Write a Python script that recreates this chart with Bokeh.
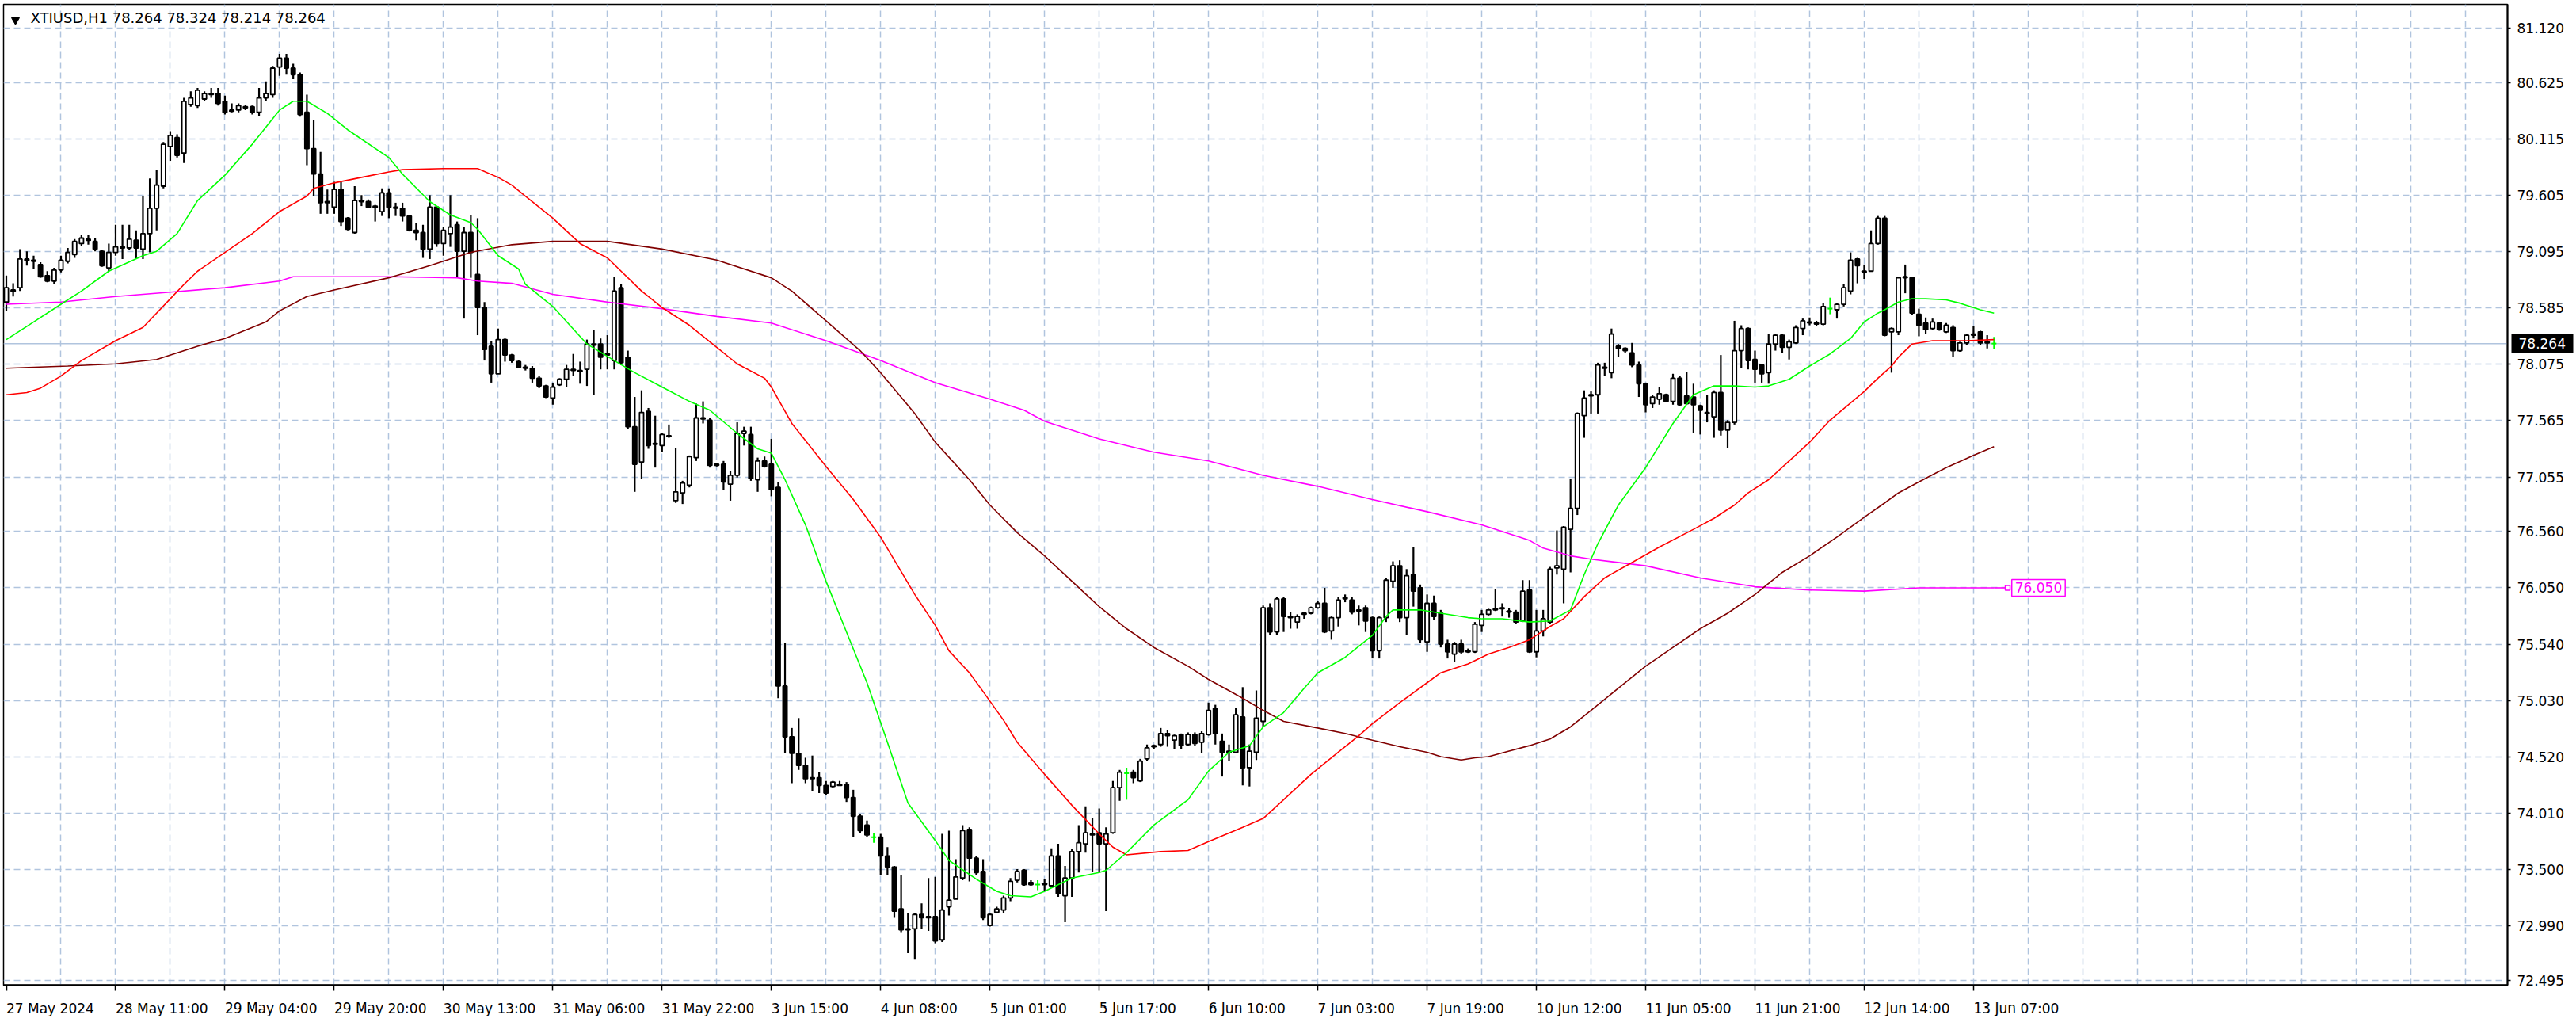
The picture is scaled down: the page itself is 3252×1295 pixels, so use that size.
from bokeh.plotting import figure
from bokeh.models import Range1d, FixedTicker, PrintfTickFormatter, Span, Label, LinearAxis
from bokeh.embed import file_html
from bokeh.resources import INLINE

# ---------------- data ----------------
symbol = "XTIUSD,H1"

opens = [
    78.64, 78.74, 78.77, 79.03, 79.02, 78.98, 78.88, 78.83, 78.93, 79.01,
    79.07, 79.17, 79.21, 79.19, 79.10, 78.95, 79.09, 79.14, 79.13, 79.20,
    79.12, 79.26, 79.49, 79.69, 80.05, 80.13, 79.99, 80.43, 80.42, 80.48,
    80.53, 80.53, 80.46, 80.37, 80.38, 80.41, 80.41, 80.36, 80.49, 80.52,
    80.77, 80.85, 80.76, 80.70, 80.36, 80.03, 79.80, 79.54, 79.50, 79.66,
    79.40, 79.27, 79.56, 79.55, 79.51, 79.46, 79.63, 79.50, 79.49, 79.42,
    79.29, 79.27, 79.12, 79.50, 79.17, 79.26, 79.34, 79.10, 79.27, 78.89,
    78.59, 78.24, 77.99, 78.30, 78.16, 78.10, 78.05, 78.04, 77.95, 77.88,
    77.77, 77.89, 77.94, 78.03, 78.02, 78.03, 78.26, 78.26, 78.16, 78.11,
    78.77, 78.14, 77.51, 77.19, 77.65, 77.36, 77.34, 77.42, 76.84, 76.91,
    76.98, 77.23, 77.59, 77.57, 77.17, 77.17, 76.99, 77.07, 77.45, 77.44,
    77.03, 77.20, 77.17, 76.96, 75.16, 74.70, 74.55, 74.44, 74.33, 74.33,
    74.26, 74.25, 74.26, 74.27, 74.15, 73.98, 73.90, 73.79, 73.79, 73.62,
    73.52, 73.14, 72.96, 72.96, 73.09, 73.06, 73.07, 72.86, 73.16, 73.23,
    73.42, 73.86, 73.60, 73.48, 72.99, 73.11, 73.13, 73.24, 73.40, 73.49,
    73.38, 73.36, 73.37, 73.35, 73.62, 73.26, 73.42, 73.66, 73.73, 73.82,
    73.83, 73.73, 73.83, 74.24, 74.37, 74.38, 74.30, 74.50, 74.61, 74.63,
    74.73, 74.67, 74.72, 74.63, 74.72, 74.65, 74.72, 74.96, 74.66, 74.57,
    74.56, 74.88, 74.42, 74.56, 74.84, 75.87, 75.65, 75.95, 75.79, 75.74,
    75.82, 75.82, 75.87, 75.91, 75.66, 75.78, 75.95, 75.94, 75.85, 75.87,
    75.78, 75.48, 75.78, 76.11, 76.25, 75.78, 76.17, 76.05, 75.56, 75.91,
    75.82, 75.54, 75.45, 75.54, 75.47, 75.47, 75.71, 75.81, 75.86, 75.86,
    75.84, 75.83, 75.75, 76.03, 75.47, 75.66, 75.74, 76.23, 76.22, 76.58,
    76.77, 77.61, 77.80, 77.80, 78.05, 78.00, 78.24, 78.22, 78.18, 78.07,
    77.90, 77.72, 77.76, 77.80, 77.74, 77.95, 77.79, 77.78, 77.70, 77.64,
    77.60, 77.82, 77.48, 77.55, 78.20, 78.40, 78.12, 78.07, 78.00, 78.26,
    78.34, 78.23, 78.27, 78.40, 78.46, 78.45, 78.44, 78.58, 78.57, 78.62,
    78.74, 79.03, 78.92, 78.92, 79.17, 79.40, 78.37, 78.37, 78.87, 78.86,
    78.53, 78.45, 78.40, 78.45, 78.37, 78.41, 78.20, 78.27, 78.35, 78.37,
    78.28, 78.264,
]
highs = [
    78.88, 78.81, 79.12, 79.10, 79.06, 79.00, 78.92, 78.95, 79.06, 79.13,
    79.21, 79.25, 79.25, 79.22, 79.11, 79.17, 79.34, 79.34, 79.34, 79.29,
    79.60, 79.76, 79.84, 80.09, 80.19, 80.16, 80.49, 80.55, 80.58, 80.55,
    80.58, 80.58, 80.51, 80.44, 80.44, 80.43, 80.42, 80.58, 80.64, 80.78,
    80.89, 80.89, 80.80, 80.72, 80.52, 80.29, 80.00, 79.66, 79.73, 79.73,
    79.41, 79.69, 79.61, 79.57, 79.52, 79.67, 79.67, 79.54, 79.54, 79.43,
    79.36, 79.34, 79.61, 79.51, 79.32, 79.61, 79.37, 79.32, 79.43, 79.40,
    78.64, 78.29, 78.40, 78.31, 78.17, 78.11, 78.07, 78.06, 77.97, 77.89,
    77.91, 77.95, 78.07, 78.17, 78.10, 78.30, 78.39, 78.31, 78.34, 78.87,
    78.80, 78.20, 77.78, 77.84, 77.68, 77.61, 77.45, 77.53, 77.32, 77.02,
    77.25, 77.72, 77.74, 77.59, 77.18, 77.20, 77.11, 77.55, 77.51, 77.51,
    77.23, 77.24, 77.40, 77.01, 75.55, 74.78, 74.87, 74.51, 74.53, 74.38,
    74.30, 74.30, 74.30, 74.29, 74.22, 74.00, 73.94, 73.83, 73.82, 73.70,
    73.53, 73.45, 73.10, 73.10, 73.19, 73.42, 73.43, 73.82, 73.85, 73.59,
    73.90, 73.88, 73.62, 73.59, 73.10, 73.16, 73.26, 73.42, 73.50, 73.50,
    73.40, 73.40, 73.41, 73.69, 73.73, 73.53, 73.68, 73.90, 74.07, 73.96,
    74.05, 73.88, 74.30, 74.40, 74.42, 74.40, 74.50, 74.63, 74.63, 74.78,
    74.76, 74.72, 74.73, 74.74, 74.74, 74.75, 75.01, 74.99, 74.73, 74.63,
    74.96, 75.15, 74.63, 75.12, 75.89, 75.91, 75.97, 75.97, 75.83, 75.81,
    75.83, 75.88, 75.93, 76.05, 75.79, 75.97, 75.99, 75.97, 75.89, 75.89,
    75.79, 75.79, 76.14, 76.29, 76.30, 76.22, 76.42, 76.08, 75.99, 75.98,
    75.85, 75.58, 75.56, 75.58, 75.50, 75.74, 75.85, 75.86, 76.04, 75.91,
    75.87, 75.85, 76.12, 76.12, 75.85, 75.85, 76.24, 76.57, 76.61, 77.04,
    77.64, 77.84, 77.83, 78.09, 78.09, 78.40, 78.26, 78.23, 78.27, 78.10,
    77.91, 77.80, 77.87, 77.81, 77.99, 77.97, 78.01, 77.90, 77.71, 77.80,
    77.84, 78.16, 77.57, 78.47, 78.43, 78.41, 78.20, 78.08, 78.35, 78.35,
    78.35, 78.30, 78.43, 78.49, 78.50, 78.47, 78.63, 78.68, 78.63, 78.80,
    79.09, 79.04, 78.98, 79.29, 79.42, 79.42, 78.41, 78.87, 78.98, 78.87,
    78.58, 78.50, 78.49, 78.46, 78.45, 78.43, 78.28, 78.35, 78.42, 78.38,
    78.34, 78.324,
]
lows = [
    78.56, 78.69, 78.74, 78.97, 78.94, 78.86, 78.82, 78.80, 78.91, 78.99,
    79.04, 79.15, 79.16, 79.10, 78.96, 78.92, 79.06, 79.03, 79.11, 79.03,
    79.03, 79.09, 79.29, 79.67, 79.92, 79.95, 79.90, 80.41, 80.40, 80.46,
    80.49, 80.42, 80.34, 80.36, 80.36, 80.38, 80.34, 80.33, 80.46, 80.49,
    80.69, 80.70, 80.66, 80.32, 79.88, 79.60, 79.44, 79.44, 79.44, 79.33,
    79.29, 79.26, 79.51, 79.49, 79.37, 79.42, 79.40, 79.42, 79.37, 79.28,
    79.20, 79.04, 79.03, 79.14, 79.06, 79.14, 78.87, 78.49, 78.86, 78.34,
    78.11, 77.91, 77.99, 78.10, 78.09, 78.04, 78.02, 77.91, 77.86, 77.77,
    77.71, 77.88, 77.87, 77.97, 77.90, 77.88, 77.80, 78.03, 78.03, 78.03,
    78.07, 77.49, 76.92, 77.04, 77.31, 77.14, 77.28, 77.41, 76.82, 76.81,
    76.96, 77.20, 77.54, 77.14, 77.15, 76.94, 76.84, 77.05, 77.34, 77.02,
    76.92, 77.14, 76.88, 75.05, 74.55, 74.28, 74.40, 74.28, 74.21, 74.19,
    74.17, 74.24, 74.26, 74.11, 73.79, 73.83, 73.79, 73.74, 73.45, 73.45,
    73.06, 72.93, 72.74, 72.68, 72.96, 72.94, 72.83, 72.84, 73.08, 73.23,
    73.40, 73.39, 73.45, 73.04, 72.98, 73.10, 73.10, 73.21, 73.38, 73.35,
    73.35, 73.31, 73.30, 73.33, 73.25, 73.02, 73.25, 73.47, 73.65, 73.48,
    73.47, 73.12, 73.82, 74.12, 74.13, 74.28, 74.29, 74.48, 74.59, 74.61,
    74.61, 74.59, 74.59, 74.62, 74.62, 74.55, 74.71, 74.63, 74.34, 74.48,
    74.55, 74.26, 74.25, 74.49, 74.79, 75.62, 75.62, 75.65, 75.68, 75.68,
    75.77, 75.81, 75.86, 75.64, 75.58, 75.70, 75.92, 75.81, 75.71, 75.65,
    75.41, 75.41, 75.74, 76.05, 75.74, 75.62, 75.88, 75.55, 75.47, 75.76,
    75.51, 75.41, 75.38, 75.45, 75.46, 75.46, 75.65, 75.80, 75.84, 75.79,
    75.78, 75.72, 75.74, 75.46, 75.42, 75.61, 75.72, 76.17, 75.91, 76.19,
    76.71, 77.41, 77.63, 77.63, 77.97, 77.95, 78.14, 78.18, 78.05, 77.78,
    77.64, 77.68, 77.71, 77.73, 77.71, 77.70, 77.71, 77.45, 77.44, 77.55,
    77.41, 77.43, 77.32, 77.53, 78.04, 78.03, 77.91, 77.91, 77.90, 78.20,
    78.18, 78.12, 78.26, 78.34, 78.43, 78.42, 78.43, 78.53, 78.49, 78.60,
    78.71, 78.81, 78.85, 78.92, 79.16, 78.33, 78.00, 78.34, 78.72, 78.52,
    78.33, 78.35, 78.39, 78.38, 78.36, 78.14, 78.19, 78.25, 78.31, 78.25,
    78.22, 78.214,
]
closes = [
    78.77, 78.75, 79.03, 79.02, 79.01, 78.87, 78.83, 78.93, 79.02, 79.09,
    79.19, 79.22, 79.20, 79.12, 78.97, 79.09, 79.14, 79.13, 79.21, 79.13,
    79.26, 79.49, 79.70, 80.07, 80.15, 79.97, 80.46, 80.49, 80.56, 80.53,
    80.52, 80.44, 80.36, 80.38, 80.42, 80.40, 80.36, 80.49, 80.53, 80.76,
    80.85, 80.76, 80.70, 80.34, 80.03, 79.80, 79.54, 79.55, 79.66, 79.37,
    79.30, 79.56, 79.55, 79.50, 79.50, 79.63, 79.50, 79.49, 79.42, 79.29,
    79.27, 79.12, 79.50, 79.17, 79.29, 79.32, 79.10, 79.27, 79.09, 78.59,
    78.21, 77.99, 78.30, 78.16, 78.11, 78.05, 78.04, 77.95, 77.88, 77.78,
    77.87, 77.94, 78.03, 78.02, 78.01, 78.26, 78.25, 78.14, 78.17, 78.74,
    78.09, 77.51, 77.17, 77.64, 77.34, 77.35, 77.44, 77.43, 76.92, 77.00,
    77.24, 77.59, 77.58, 77.16, 77.16, 77.01, 77.07, 77.45, 77.47, 77.04,
    77.20, 77.15, 76.94, 75.16, 74.70, 74.55, 74.44, 74.32, 74.32, 74.26,
    74.19, 74.29, 74.27, 74.15, 73.98, 73.85, 73.81, 73.79, 73.62, 73.52,
    73.12, 72.95, 72.95, 73.09, 73.06, 73.07, 72.85, 73.13, 73.22, 73.43,
    73.85, 73.60, 73.47, 73.06, 73.09, 73.14, 73.24, 73.39, 73.48, 73.36,
    73.36, 73.36, 73.36, 73.62, 73.28, 73.42, 73.66, 73.74, 73.83, 73.81,
    73.73, 73.82, 74.24, 74.38, 74.37, 74.33, 74.48, 74.60, 74.62, 74.73,
    74.71, 74.71, 74.62, 74.72, 74.64, 74.73, 74.94, 74.73, 74.56, 74.56,
    74.90, 74.42, 74.57, 74.87, 75.87, 75.65, 75.95, 75.79, 75.78, 75.79,
    75.81, 75.87, 75.91, 75.65, 75.78, 75.94, 75.96, 75.83, 75.84, 75.75,
    75.48, 75.78, 76.12, 76.25, 75.78, 76.16, 76.02, 75.58, 75.91, 75.79,
    75.54, 75.47, 75.54, 75.47, 75.48, 75.72, 75.81, 75.85, 75.85, 75.87,
    75.83, 75.74, 76.02, 75.47, 75.66, 75.77, 76.22, 76.25, 76.60, 76.77,
    77.63, 77.77, 77.79, 78.07, 78.04, 78.35, 78.22, 78.20, 78.07, 77.90,
    77.71, 77.78, 77.81, 77.74, 77.95, 77.71, 77.72, 77.71, 77.66, 77.63,
    77.82, 77.48, 77.55, 78.20, 78.40, 78.11, 78.03, 77.99, 78.26, 78.34,
    78.23, 78.28, 78.41, 78.47, 78.45, 78.44, 78.60, 78.58, 78.62, 78.77,
    79.02, 78.97, 78.91, 79.17, 79.40, 78.34, 78.40, 78.86, 78.86, 78.54,
    78.43, 78.39, 78.46, 78.39, 78.43, 78.20, 78.27, 78.34, 78.34, 78.27,
    78.27, 78.264,
]

# moving averages (bar index, value)
ma20_bars = [0, 4, 8, 11, 15, 20, 22, 25, 28, 32, 36, 40, 42, 44, 47, 50, 56, 58, 62, 65,
             68, 69, 72, 75, 76, 80, 85, 89, 92, 96, 100, 103, 107, 110, 112, 114, 117, 120, 123, 126,
             129, 132, 134, 136, 138, 142, 145, 147, 150, 152, 156, 160, 161, 164, 168, 173, 176, 179, 182, 184,
             187, 190, 192, 196, 200, 202, 203, 207, 210, 214, 216, 219, 223, 226, 229, 231, 233, 236, 240, 244,
             247, 250, 253, 256, 258, 261, 264, 267, 270, 272, 274, 275, 277, 279, 281, 284, 286, 289, 291]
ma20_vals = [78.30, 78.46, 78.62, 78.74, 78.92, 79.06, 79.10, 79.26, 79.56, 79.79, 80.07, 80.38, 80.46, 80.46, 80.35, 80.20, 79.95, 79.80, 79.55, 79.43,
             79.36, 79.30, 79.06, 78.94, 78.80, 78.60, 78.26, 78.11, 78.00, 77.87, 77.74, 77.66, 77.45, 77.31, 77.27, 77.03, 76.62, 76.11, 75.65, 75.19,
             74.65, 74.10, 73.93, 73.76, 73.58, 73.41, 73.30, 73.26, 73.25, 73.30, 73.42, 73.47, 73.49, 73.65, 73.90, 74.13, 74.39, 74.56, 74.62, 74.79,
             74.92, 75.14, 75.28, 75.42, 75.62, 75.79, 75.85, 75.85, 75.82, 75.78, 75.77, 75.77, 75.74, 75.75, 75.85, 76.17, 76.45, 76.80, 77.14, 77.54,
             77.80, 77.88, 77.88, 77.87, 77.88, 77.94, 78.06, 78.17, 78.31, 78.46, 78.54, 78.57, 78.64, 78.67, 78.67, 78.66, 78.63, 78.57, 78.54]

ma50_bars = [0, 3, 5, 8, 11, 16, 20, 22, 24, 26, 28, 32, 36, 40, 44, 45, 48, 52, 56, 58,
             64, 69, 72, 74, 76, 80, 84, 88, 93, 96, 100, 104, 107, 111, 112, 115, 120, 124, 128, 133,
             136, 138, 141, 143, 146, 148, 152, 156, 160, 162, 164, 169, 173, 176, 181, 184, 187, 191, 195, 198,
             200, 204, 208, 210, 214, 217, 220, 223, 224, 226, 228, 231, 234, 238, 242, 247, 250, 253, 255, 258,
             261, 264, 267, 272, 274, 276, 277, 279, 282, 284, 287, 291]
ma50_vals = [77.80, 77.82, 77.86, 77.97, 78.11, 78.29, 78.41, 78.54, 78.67, 78.80, 78.92, 79.09, 79.26, 79.46, 79.60, 79.67, 79.72, 79.77, 79.82, 79.84,
             79.85, 79.85, 79.77, 79.70, 79.60, 79.40, 79.17, 79.04, 78.74, 78.59, 78.43, 78.23, 78.08, 77.95, 77.87, 77.54, 77.15, 76.85, 76.51, 75.99,
             75.71, 75.48, 75.28, 75.11, 74.85, 74.65, 74.36, 74.08, 73.82, 73.70, 73.63, 73.66, 73.67, 73.75, 73.88, 73.96, 74.13, 74.36, 74.56, 74.71,
             74.82, 75.01, 75.19, 75.28, 75.36, 75.45, 75.51, 75.58, 75.62, 75.70, 75.77, 75.97, 76.14, 76.28, 76.42, 76.58, 76.68, 76.80, 76.91, 77.03,
             77.20, 77.37, 77.57, 77.83, 77.95, 78.06, 78.14, 78.26, 78.29, 78.29, 78.29, 78.30]

ma100_bars = [0, 9, 16, 22, 28, 32, 38, 40, 44, 48, 56, 62, 68, 74, 80, 88, 96, 104, 112, 115,
              120, 125, 128, 133, 136, 141, 144, 148, 152, 156, 160, 164, 168, 173, 176, 181, 184, 187, 192, 196,
              200, 204, 208, 210, 213, 215, 217, 220, 223, 226, 229, 232, 236, 240, 244, 248, 252, 256, 260, 264,
              268, 272, 275, 277, 280, 284, 288, 291]
ma100_vals = [78.04, 78.06, 78.08, 78.12, 78.24, 78.31, 78.46, 78.56, 78.69, 78.75, 78.86, 78.97, 79.09, 79.16, 79.19, 79.19, 79.12, 79.02, 78.86, 78.74,
              78.47, 78.20, 78.00, 77.63, 77.37, 77.03, 76.80, 76.55, 76.34, 76.11, 75.88, 75.68, 75.51, 75.34, 75.22, 75.05, 74.94, 74.84, 74.78, 74.73,
              74.67, 74.61, 74.56, 74.52, 74.49, 74.51, 74.52, 74.57, 74.62, 74.68, 74.79, 74.94, 75.14, 75.34, 75.51, 75.68, 75.82, 75.99, 76.19, 76.34,
              76.51, 76.69, 76.82, 76.91, 77.01, 77.14, 77.25, 77.33]

ma200_bars = [0, 8, 16, 24, 32, 40, 42, 48, 56, 66, 69, 74, 80, 88, 96, 104, 112, 120, 128, 136,
              144, 149, 152, 160, 168, 176, 184, 192, 200, 208, 216, 223, 225, 229, 232, 240, 248, 256, 264, 272,
              280, 291]
ma200_vals = [78.62, 78.64, 78.69, 78.73, 78.77, 78.83, 78.87, 78.87, 78.87, 78.86, 78.83, 78.81, 78.71, 78.64, 78.58, 78.51, 78.45, 78.29, 78.11, 77.91,
              77.76, 77.66, 77.56, 77.40, 77.28, 77.20, 77.07, 76.97, 76.85, 76.74, 76.62, 76.48, 76.41, 76.34, 76.31, 76.25, 76.14, 76.06, 76.03, 76.02,
              76.05, 76.05]

time_label_bars = [0, 16, 32, 48, 64, 80, 96, 112, 128, 144, 160, 176, 192, 208, 224, 240, 256, 272, 288]
time_labels = ["27 May 2024", "28 May 11:00", "29 May 04:00", "29 May 20:00", "30 May 13:00",
               "31 May 06:00", "31 May 22:00", "3 Jun 15:00", "4 Jun 08:00", "5 Jun 01:00",
               "5 Jun 17:00", "6 Jun 10:00", "7 Jun 03:00", "7 Jun 19:00", "10 Jun 12:00",
               "11 Jun 05:00", "11 Jun 21:00", "12 Jun 14:00", "13 Jun 07:00"]
price_ticks = [81.120, 80.625, 80.115, 79.605, 79.095, 78.585, 78.075, 77.565, 77.055,
               76.560, 76.050, 75.540, 75.030, 74.520, 74.010, 73.500, 72.990, 72.495]

# ---------------- layout / style ----------------
FIG_W, FIG_H = 3252, 1295
BORDER_L, BORDER_T = 4, 5
FRAME_W, FRAME_H = 3161, 1245
BAR_PX = 8.623
X0 = -3.5 / BAR_PX
X1 = X0 + FRAME_W / BAR_PX
Y0, Y1 = 72.449, 81.338
PX_PER_PRICE = FRAME_H / (Y1 - Y0)

FONT = "DejaVu Sans"
FS = "17px"
GRID = "#B0C4DE"
GREEN, RED, MAROON, MAGENTA = "#00FF00", "#FF0000", "#800000", "#FF00FF"

p = figure(width=FIG_W, height=FIG_H,
           x_range=Range1d(X0, X1), y_range=Range1d(Y0, Y1),
           output_backend="svg", toolbar_location=None,
           y_axis_location="right",
           min_border_left=BORDER_L, min_border_top=BORDER_T,
           min_border_right=FIG_W - FRAME_W - BORDER_L,
           min_border_bottom=FIG_H - FRAME_H - BORDER_T,
           background_fill_color="white", border_fill_color="white")
p.outline_line_color = "black"
p.outline_line_width = 1.5

# x axis (time), labels start at their tick as in the terminal
xa = p.xaxis[0]
xa.ticker = FixedTicker(ticks=time_label_bars, minor_ticks=[])
xa.major_label_overrides = {b: t for b, t in zip(time_label_bars, time_labels)}
xa.major_label_orientation = -1e-6
xa.major_tick_out = 7
xa.major_tick_in = 0
xa.minor_tick_out = 0
xa.minor_tick_in = 0
xa.axis_line_width = 2.5
xa.axis_line_color = "black"
xa.major_tick_line_width = 1.5
xa.major_label_standoff = 22
xa.major_label_text_font = FONT
xa.major_label_text_font_size = FS
xa.major_label_text_color = "black"

# y axis (price, right)
ya = p.yaxis[0]
ya.ticker = FixedTicker(ticks=price_ticks, minor_ticks=[])
ya.formatter = PrintfTickFormatter(format="%.3f")
ya.major_tick_out = 4
ya.major_tick_in = 0
ya.minor_tick_out = 0
ya.minor_tick_in = 0
ya.axis_line_width = 2
ya.axis_line_color = "black"
ya.major_tick_line_width = 1.5
ya.major_label_standoff = 8
ya.major_label_text_font = FONT
ya.major_label_text_font_size = FS
ya.major_label_text_color = "black"

# current-price marker on the price scale: a second right axis whose single
# thick tick reaches back over the price labels (black box, white text)
PRICE_AXIS_W = 72          # width taken by the price axis panel
BOX_L, BOX_R = 3, 81       # box extent, px right of the frame edge
box_axis = LinearAxis(ticker=FixedTicker(ticks=[closes[-1]], minor_ticks=[]),
                      formatter=PrintfTickFormatter(format="%.3f"),
                      axis_line_color=None,
                      major_tick_in=PRICE_AXIS_W - BOX_L,
                      major_tick_out=BOX_R - PRICE_AXIS_W,
                      major_tick_line_width=23, major_tick_line_color="black",
                      minor_tick_in=0, minor_tick_out=0,
                      major_label_standoff=-(BOX_R - 12),
                      major_label_text_color="white",
                      major_label_text_font=FONT, major_label_text_font_size=FS)
p.add_layout(box_axis, "right")

# grid
p.xgrid.ticker = FixedTicker(ticks=list(range(8, 361, 8)))
p.ygrid.ticker = FixedTicker(ticks=price_ticks)
for g in (p.xgrid[0], p.ygrid[0]):
    g.grid_line_color = GRID
    g.grid_line_width = 1.5
    g.grid_line_dash = "8 5"

# current price line
p.add_layout(Span(location=closes[-1], dimension="width", line_color=GRID,
                  line_width=1.5, level="underlay"))

# ---------------- candles ----------------
idx = list(range(len(closes)))
moved = [i for i in idx if opens[i] != closes[i]]
up = [i for i in idx if closes[i] > opens[i]]
dn = [i for i in idx if closes[i] < opens[i]]
dj = [i for i in idx if closes[i] == opens[i]]

p.segment(x0=moved, x1=moved, y0=[lows[i] for i in moved], y1=[highs[i] for i in moved],
          line_color="black", line_width=2.2)
p.vbar(x=up, width=0.6, bottom=[opens[i] for i in up], top=[closes[i] for i in up],
       fill_color="white", line_color="black", line_width=1.8)
p.vbar(x=dn, width=0.6, top=[opens[i] for i in dn], bottom=[closes[i] for i in dn],
       fill_color="black", line_color="black", line_width=1.8)
p.segment(x0=dj, x1=dj, y0=[lows[i] for i in dj], y1=[highs[i] for i in dj],
          line_color=GREEN, line_width=2)
p.segment(x0=[i - 0.35 for i in dj], x1=[i + 0.35 for i in dj],
          y0=[opens[i] for i in dj], y1=[opens[i] for i in dj],
          line_color=GREEN, line_width=2)

# ---------------- moving averages ----------------
p.line(ma200_bars, ma200_vals, line_color=MAGENTA, line_width=1.6)
p.line(ma100_bars, ma100_vals, line_color=MAROON, line_width=1.6)
p.line(ma50_bars, ma50_vals, line_color=RED, line_width=1.6)
p.line(ma20_bars, ma20_vals, line_color=GREEN, line_width=1.6)

last = idx[-1]
p.line([last, last + 2.0], [ma200_vals[-1], ma200_vals[-1]], line_color=MAGENTA, line_width=1.6)
p.scatter([last + 2.0], [ma200_vals[-1]], marker="square", size=6,
          fill_color="white", line_color=MAGENTA, line_width=1.5)
p.add_layout(Label(x=last + 2.6, y=ma200_vals[-1], text=f"{ma200_vals[-1]:.3f}",
                   text_font=FONT, text_font_size=FS, text_color=MAGENTA,
                   text_align="left", text_baseline="middle",
                   background_fill_color="white", border_line_color=MAGENTA,
                   border_line_width=1.5, padding=4))

# header
p.scatter([X0 + 15 / BAR_PX], [Y1 - 20 / PX_PER_PRICE], marker="inverted_triangle",
          size=10, fill_color="black", line_color="black")
header = f"{symbol}  {opens[-1]:.3f} {highs[-1]:.3f} {lows[-1]:.3f} {closes[-1]:.3f}"
p.add_layout(Label(x=X0 + 34 / BAR_PX, y=Y1 - 17 / PX_PER_PRICE, text=header,
                   text_font=FONT, text_font_size="18px", text_color="black",
                   text_align="left", text_baseline="middle"))

open("out.html", "w").write(file_html(p, INLINE))
